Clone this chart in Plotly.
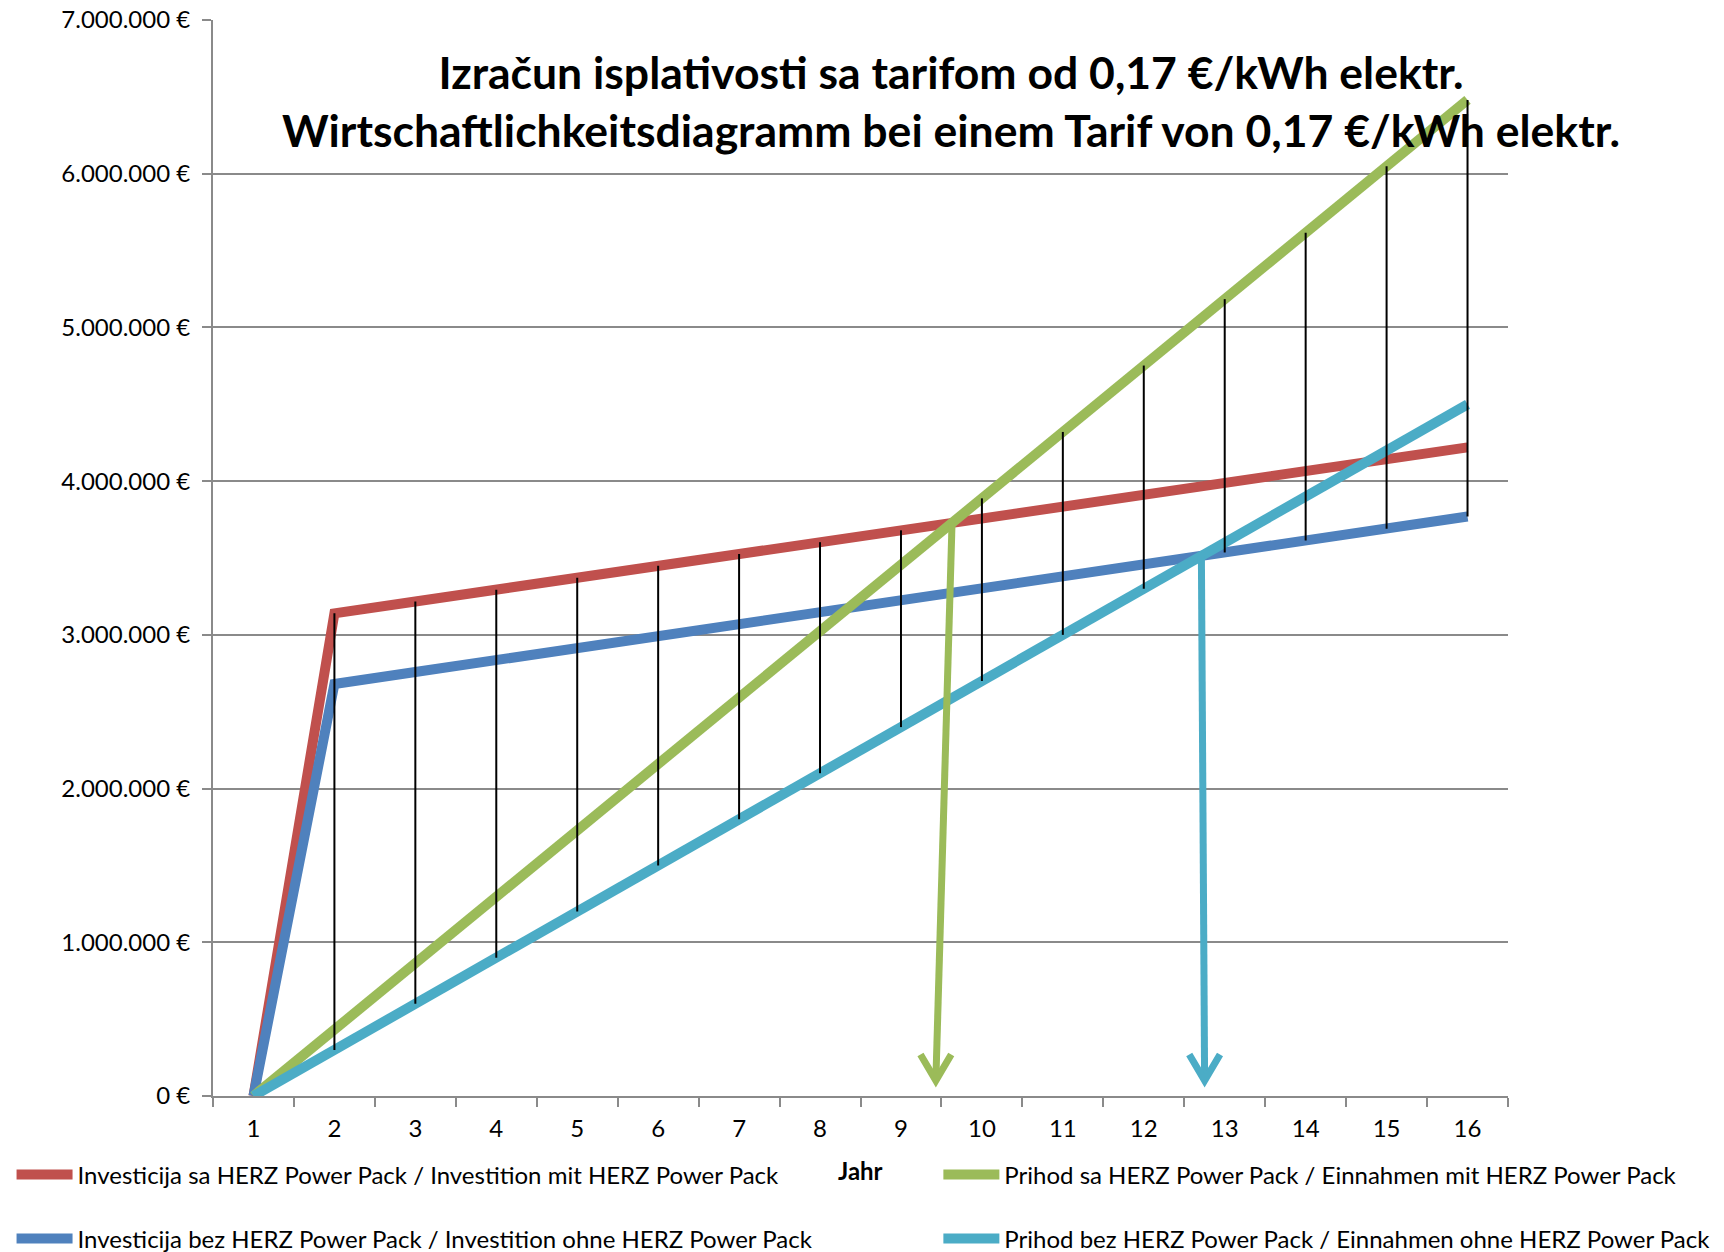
import plotly.graph_objects as go

# ---------------- data ----------------
years = list(range(1, 17))
tick_labels = [str(y) for y in years]

inv_with = [0, 3140000, 3217000, 3294000, 3371000, 3449000, 3526000, 3603000,
            3680000, 3757000, 3834000, 3911000, 3989000, 4066000, 4143000, 4220000]
inv_without = [0, 2680000, 2758000, 2836000, 2914000, 2991000, 3069000, 3147000,
               3224000, 3303000, 3380000, 3458000, 3536000, 3614000, 3691000, 3770000]
rev_with = [0, 432000, 864000, 1296000, 1728000, 2160000, 2592000, 3024000,
            3456000, 3888000, 4320000, 4752000, 5184000, 5616000, 6048000, 6480000]
rev_without = [0, 300000, 600000, 900000, 1200000, 1500000, 1800000, 2100000,
               2400000, 2700000, 3000000, 3300000, 3600000, 3900000, 4200000, 4500000]

names = [
    "Investicija sa HERZ Power Pack / Investition mit HERZ Power Pack",
    "Investicija bez HERZ Power Pack / Investition ohne HERZ Power Pack",
    "Prihod sa HERZ Power Pack / Einnahmen mit HERZ Power Pack",
    "Prihod bez HERZ Power Pack / Einnahmen ohne HERZ Power Pack",
]
title_lines = [
    "Izračun isplativosti sa tarifom od 0,17 €/kWh elektr.",
    "Wirtschaftlichkeitsdiagramm bei einem Tarif von 0,17 €/kWh elektr.",
]
x_title = "Jahr"

# ---------------- styles ----------------
RED, BLUE, GREEN, CYAN = "#C0504D", "#4F81BD", "#9BBB59", "#4BACC6"
GRID = "#8A8A8A"
FONT = "Lato"
W, H = 1724, 1252
ML, MR, MT, MB = 213, 216, 20, 156

# legend placement (container fractions): left column / right column, row 1 / row 2
LEG_X = [0.0067, 0.0067, 0.5443, 0.5443]
LEG_Y = [0.0615, 0.0104, 0.0615, 0.0104]
LEG_IDS = ["legend", "legend2", "legend3", "legend4"]

fig = go.Figure()

series = [
    (inv_with, RED),
    (inv_without, BLUE),
    (rev_with, GREEN),
    (rev_without, CYAN),
]
for (vals, col), nm, lg in zip(series, names, LEG_IDS):
    fig.add_trace(go.Scatter(x=years, y=vals, mode="lines", name=nm,
                             line=dict(color=col, width=10), legend=lg))

# high-low lines
hl_x, hl_y = [], []
for i, yr in enumerate(years):
    vs = [inv_with[i], inv_without[i], rev_with[i], rev_without[i]]
    hl_x += [yr, yr, None]
    hl_y += [max(vs), min(vs), None]
fig.add_trace(go.Scatter(x=hl_x, y=hl_y, mode="lines", showlegend=False,
                         hoverinfo="skip", line=dict(color="black", width=2)))


def crossing(a, b):
    for k in range(1, len(years) - 1):
        d0 = a[k] - b[k]
        d1 = a[k + 1] - b[k + 1]
        if d0 < 0 <= d1:
            t = -d0 / (d1 - d0)
            return years[k] + t, a[k] + t * (a[k + 1] - a[k])
    return None


ARROW_TIP = 100000
HEAD_DX, HEAD_DY = 0.19, 170000
arrows = [
    (crossing(rev_with, inv_with), -0.2, GREEN),
    (crossing(rev_without, inv_without), 0.04, CYAN),
]
for (cx, cy), drift, col in arrows:
    tx = cx + drift
    ax_ = [cx, tx, None, tx - HEAD_DX, tx, tx + HEAD_DX]
    ay_ = [cy, ARROW_TIP, None, ARROW_TIP + HEAD_DY, ARROW_TIP, ARROW_TIP + HEAD_DY]
    fig.add_trace(go.Scatter(x=ax_, y=ay_, mode="lines", showlegend=False,
                             hoverinfo="skip", line=dict(color=col, width=7)))

legend_common = dict(orientation="h", xanchor="left", yanchor="middle",
                     xref="container", yref="container",
                     itemwidth=56, font=dict(size=24, family=FONT, color="black"),
                     bgcolor="rgba(0,0,0,0)", borderwidth=0)
legends = {lid: dict(legend_common, x=lx, y=ly)
           for lid, lx, ly in zip(LEG_IDS, LEG_X, LEG_Y)}

fig.update_layout(
    width=W, height=H,
    margin=dict(l=ML, r=MR, t=MT, b=MB, autoexpand=False),
    plot_bgcolor="white", paper_bgcolor="white",
    separators=",.",
    font=dict(family=FONT, size=24, color="black"),
    xaxis=dict(
        range=[0.5, 16.5], tickmode="array", tickvals=years, ticktext=tick_labels,
        ticks="", showgrid=False, zeroline=False, automargin=False,
        showline=True, linecolor=GRID, linewidth=2,
        minor=dict(tick0=0.5, dtick=1, ticks="outside", ticklen=9,
                   tickcolor=GRID, tickwidth=2, showgrid=False),
        ticklabelstandoff=10,
        tickfont=dict(size=24),
    ),
    yaxis=dict(
        range=[0, 7000000], dtick=1000000, tick0=0,
        tickformat=",.0f", ticksuffix=" €", automargin=False,
        showgrid=True, gridcolor=GRID, gridwidth=2, zeroline=False,
        showline=True, linecolor=GRID, linewidth=2,
        ticks="outside", ticklen=9, tickcolor=GRID, tickwidth=2,
        ticklabelstandoff=7, tickfont=dict(size=24),
    ),
    annotations=[
        dict(
            text="<b>" + "<br>".join(title_lines) + "</b>",
            xref="paper", yref="paper", x=0.5698, y=0.9248,
            xanchor="center", yanchor="middle", showarrow=False, align="center",
            font=dict(size=44.5, family=FONT, color="black"),
        ),
        dict(
            text="<b>" + x_title + "</b>",
            xref="paper", yref="paper", x=0.5, y=-0.0695,
            xanchor="center", yanchor="middle", showarrow=False,
            font=dict(size=24, family=FONT, color="black"),
        ),
    ],
    **legends,
)

fig.write_html("out.html",
               config={"displayModeBar": False},
               post_script="document.body.style.margin='0px';"
                           "document.documentElement.style.overflow='hidden';")
